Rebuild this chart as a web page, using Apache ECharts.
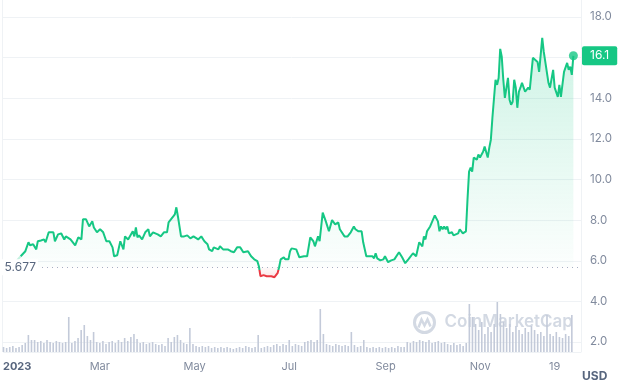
<!DOCTYPE html>
<html><head><meta charset="utf-8">
<script src="https://cdn.jsdelivr.net/npm/echarts/dist/echarts.min.js"></script>
<style>html,body{margin:0;padding:0;background:#fff}#c{width:630px;height:388px}</style>
</head><body><div id="c"></div>
<script>
// ---- data ----
const START_DATE = '2022-12-29';
const X_SPAN_DAYS = 371.9;
const BASELINE = 5.677;

const priceDays = [0,4,7,12,15,17,18,20,22,23,25,27,28,30,33,34,36,38,40,41,42,44,45,47,49,51,52,54,56,58,59,61,63,65,67,69,71,72,74,76,78,79,81,84,85,86,87,88,90,92,94,95,97,100,102,104,106,107,110,111,112,113,114,115,117,119,121,123,126,128,130,132,133,135,136,139,140,142,145,147,149,151,153,155,158,160,162,164,165,166,168,170,171,173,175,177,178,179,181,182,184,185,186,187,189,191,192,194,196,198,200,201,203,204,205,206,208,209,210,212,214,216,217,218,220,222,223,224,226,227,229,231,232,234,236,238,239,240,241,243,245,246,248,250,252,255,257,259,261,264,266,268,269,270,271,272,273,274,275,278,280,281,282,283,284,285,286,287,289,290,293,294,296,297,298,299,300,301,302,303,305,306,307,309,310,312,313,314,315,316,317,318,319,320,321,322,323,325,326,327,328,329,330,331,332,333,334,335,336,338,339,341,344,345,347,348,349,351,352,354,355,357,358,359,361,363,364,365,366,367];
const prices = [5.68,5.48,5.78,6.22,6.47,6.91,6.76,6.81,6.56,6.96,7.0,7.05,6.91,7.40,7.40,6.96,7.30,7.35,7.05,7.20,7.15,7.05,6.96,6.76,7.15,7.05,8.04,8.04,7.69,7.94,7.64,7.40,7.55,7.40,6.96,6.96,6.66,6.22,6.27,6.96,6.56,7.20,7.05,7.45,7.20,7.64,7.15,7.25,7.05,7.40,7.55,7.20,7.40,7.30,7.20,7.40,7.40,7.89,8.18,8.28,8.63,8.18,7.69,7.20,7.20,7.25,7.10,7.20,7.05,7.20,6.96,6.81,6.56,6.47,6.66,6.56,6.71,6.56,6.56,6.47,6.42,6.66,6.66,6.42,6.47,6.22,6.07,5.98,5.73,5.24,5.29,5.24,5.29,5.24,5.19,5.39,5.68,6.07,6.17,6.07,6.07,6.47,6.61,6.66,6.56,6.17,6.17,6.22,6.22,7.15,6.96,6.71,7.20,6.96,7.05,8.37,7.94,7.94,7.45,8.0,7.79,7.89,7.55,7.64,7.20,7.20,7.15,7.40,7.69,7.55,7.45,7.45,6.91,6.22,6.22,6.22,6.12,6.37,6.12,6.02,6.07,6.22,5.93,6.02,6.07,6.42,6.17,5.88,6.07,6.37,6.22,6.91,6.96,6.71,7.20,7.05,7.45,7.40,7.69,8.23,7.94,7.45,7.69,7.55,7.69,7.55,7.69,7.35,7.40,7.25,7.35,7.55,7.35,7.40,7.45,9.02,10.39,10.59,10.39,11.08,10.98,11.23,11.08,11.37,11.62,11.08,11.57,11.96,13.04,13.09,14.91,14.66,15.0,16.43,16.04,14.91,14.02,15.0,13.93,13.68,13.83,14.91,14.52,13.53,14.32,14.52,14.76,14.81,14.32,14.52,14.42,15.99,15.79,15.30,16.97,16.28,16.28,14.76,14.52,15.40,14.52,14.07,14.66,14.07,15.30,15.74,15.40,15.55,15.15,16.09];

// volume (relative units), one bar every VOLUME_STEP_DAYS from START_DATE
const VOLUME_STEP_DAYS = 2;
const volumes = [5,4,5,6,4, 5,7,9,17,12, 12,10,11,9,12, 10,9,11,10,9, 10,35,9,11,14, 22,27,16,12,20,
 10,9,11,8,10, 11,9,12,10,14, 11,15,18,13,9, 10,8,9,10,8, 7,8,6,14,10, 15,17,12,9,8,
 24,8,6,5,6, 5,6,4,5,4, 5,4,5,4,3, 4,5,4,6,5, 4,5,17,4,5, 6,5,7,8,6,
 8,7,12,6,8, 7,6,10,11,12, 10,12,43,18,8, 7,6,8,7,6, 7,6,20,7,5, 6,12,5,4,5,
 4,5,4,5,4, 5,4,6,5,5, 10,9,11,10,12, 11,10,12,9,10, 11,9,10,8,7, 9,7,8,6,9,
 48,35,28,22,30, 18,25,20,28,50, 38,30,24,28,20, 26,22,18,24,20, 26,22,18,20,16,
 37,18,16,20,15, 14,18,16,37];
const VOL_MAX = 52;

const tickDates = ['2023-01-01','2023-03-01','2023-05-01','2023-07-01','2023-09-01','2023-11-01','2023-12-19'];
const tickLabels = ['2023','Mar','May','Jul','Sep','Nov','19'];
const Y_MIN = 2, Y_MAX = 18, Y_STEP = 2;

// ---- build ----
const DAY = 86400000;
const t0 = Date.parse(START_DATE);
const toTime = d => t0 + d * DAY;
const priceData = priceDays.map((d, i) => [toTime(d), prices[i]]);
const FADE_COUNT = 4;
const fadeData = priceData.slice(0, FADE_COUNT);
const mainData = priceData.slice(FADE_COUNT - 1);
const volData = volumes.map((v, i) => [toTime(i * VOLUME_STEP_DAYS), v]);
const last = priceData[priceData.length - 1];
const tickTimes = tickDates.map(s => Date.parse(s));
const GREEN = '#16c784', RED = '#ea3943';
const xMin = t0, xMax = t0 + X_SPAN_DAYS * DAY;

// vertical gradient split at the baseline, relative to the bounding box of a series
function splitGradient(vals, top, above, below, bottom) {
  const hi = Math.max(...vals, BASELINE), lo = Math.min(...vals, BASELINE);
  const f = Math.min(1, Math.max(0, (hi - BASELINE) / (hi - lo)));
  return new echarts.graphic.LinearGradient(0, 0, 0, 1, [
    { offset: 0, color: top },
    { offset: Math.max(0, f - 0.0005), color: above },
    { offset: Math.min(1, f + 0.0005), color: below },
    { offset: 1, color: bottom }
  ]);
}
const mainVals = mainData.map(p => p[1]);
const fadeVals = fadeData.map(p => p[1]);

const chart = echarts.init(document.getElementById('c'));
chart.setOption({
  animation: false,
  textStyle: { fontFamily: 'Inter' },
  grid: [
    { left: 2, right: 49, top: 17, bottom: 46 },
    { left: 2, right: 49, top: 300, bottom: 36 }
  ],
  xAxis: [
    { type: 'value', gridIndex: 0, min: xMin, max: xMax, show: false, splitLine: { show: false } },
    { type: 'value', gridIndex: 1, min: xMin, max: xMax,
      axisLine: { show: true, lineStyle: { color: '#eff2f5' } },
      axisTick: { show: false }, splitLine: { show: false },
      axisLabel: {
        customValues: tickTimes,
        color: '#808a9d', fontSize: 11, margin: 9,
        formatter: v => {
          const i = tickTimes.indexOf(v);
          if (i < 0) return '';
          return i === 0 ? '{b|' + tickLabels[0] + '}' : tickLabels[i];
        },
        rich: { b: { fontWeight: 'bold', color: '#58667e', fontSize: 11, fontFamily: 'Inter', padding: [0, 0, 0, 18] } }
      } }
  ],
  yAxis: [
    { type: 'value', gridIndex: 0, position: 'right', min: Y_MIN, max: Y_MAX, interval: Y_STEP,
      axisLine: { show: false }, axisTick: { show: false },
      splitLine: { lineStyle: { color: '#eff2f5' } },
      axisLabel: { formatter: v => v.toFixed(1), color: '#808a9d', fontSize: 11.5, margin: 9 } },
    { type: 'value', gridIndex: 1, min: 0, max: VOL_MAX, show: false }
  ],
  graphic: [
    { type: 'line', shape: { x1: 2.5, y1: 0, x2: 2.5, y2: 352 }, style: { stroke: '#eff2f5', lineWidth: 1 }, silent: true },
    { type: 'line', shape: { x1: 581.5, y1: 0, x2: 581.5, y2: 352 }, style: { stroke: '#eff2f5', lineWidth: 1 }, silent: true },
    { type: 'text', left: 582, top: 370, style: { text: 'USD', fill: '#58667e', font: 'bold 12px Inter' }, silent: true },
    { type: 'group', left: 412, top: 310, silent: true, z: 0, children: [
      { type: 'circle', shape: { cx: 11, cy: 11, r: 10 }, style: { fill: 'none', stroke: '#d3d9e3', lineWidth: 3 } },
      { type: 'polyline', shape: { points: [[5, 16], [8, 8], [11, 14], [14, 8], [17, 15]] }, style: { fill: 'none', stroke: '#d3d9e3', lineWidth: 2.5 } },
      { type: 'text', x: 31, y: 2, style: { text: 'CoinMarketCap', fill: '#d3d9e3', font: '600 17px Inter' } }
    ] }
  ],
  series: [
    { type: 'bar', xAxisIndex: 1, yAxisIndex: 1, data: volData, barWidth: 1.6,
      itemStyle: { color: '#c3cad9' }, z: 1 },
    { type: 'line', name: 'price', xAxisIndex: 0, yAxisIndex: 0, data: mainData,
      symbol: 'none', showSymbol: false, z: 3,
      lineStyle: { width: 2, color: splitGradient(mainVals, GREEN, GREEN, RED, RED) },
      areaStyle: {
        origin: BASELINE,
        color: splitGradient(mainVals, 'rgba(22,199,132,0.30)', 'rgba(22,199,132,0.02)', 'rgba(234,57,67,0.04)', 'rgba(234,57,67,0.18)')
      },
      markLine: {
        symbol: 'none', silent: true, animation: false,
        data: [
          { yAxis: BASELINE, lineStyle: { type: [1, 4], color: '#a6b0c3', width: 1 },
            label: { show: true, position: 'start', distance: -36, formatter: String(BASELINE),
              color: '#58667e', fontSize: 12, fontFamily: 'Inter', backgroundColor: '#fff', padding: [2, 2, 2, 4] } },
          { yAxis: last[1], lineStyle: { color: 'rgba(0,0,0,0)', width: 1, type: 'solid' },
            label: { show: true, position: 'end', distance: 1, formatter: last[1].toFixed(1),
              color: '#fff', backgroundColor: GREEN, padding: [3, 8, 3, 8], fontSize: 12, lineHeight: 13, fontFamily: 'Inter', borderRadius: 2 } }
        ]
      } },
    { type: 'line', name: 'start', xAxisIndex: 0, yAxisIndex: 0, data: fadeData,
      symbol: 'none', showSymbol: false, z: 2,
      lineStyle: { width: 2, opacity: 0.25, color: splitGradient(fadeVals, GREEN, GREEN, RED, RED) } },
    { type: 'scatter', xAxisIndex: 0, yAxisIndex: 0, data: [last], symbolSize: 9,
      itemStyle: { color: GREEN }, z: 5 }
  ]
});
</script>
</body></html>
